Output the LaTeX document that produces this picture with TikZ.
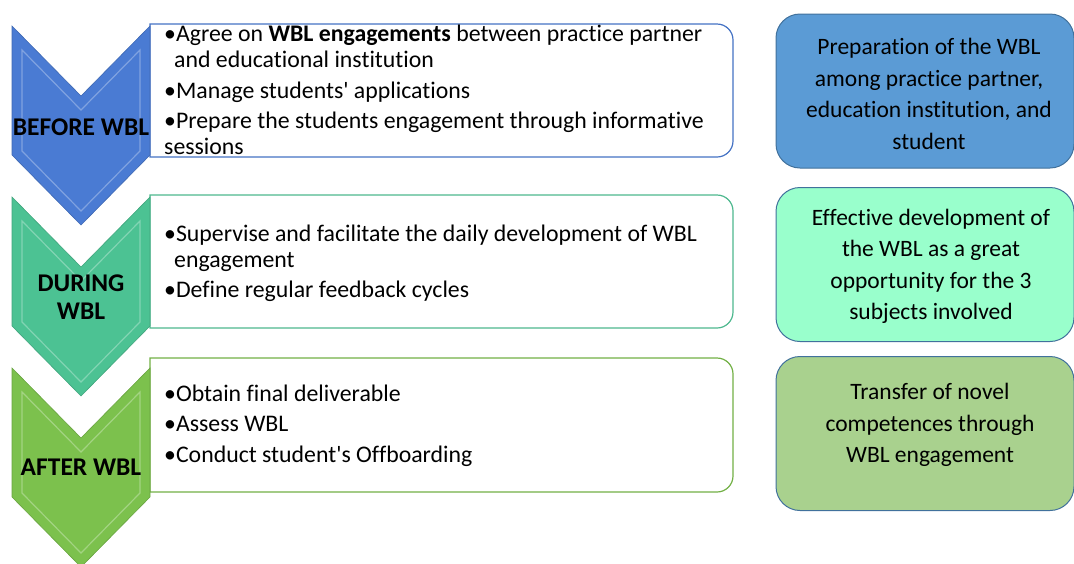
\documentclass[tikz,border=0pt]{standalone}
\usepackage{fontspec}
\setmainfont{Carlito}[Ligatures={TeXOff,NoCommon}]
\usetikzlibrary{positioning}

\definecolor{beforeblue}{HTML}{4A7BD3}
\definecolor{duringgreen}{HTML}{4CC293}
\definecolor{aftergreen}{HTML}{7CC14D}
\definecolor{beforeline}{HTML}{4472C4}
\definecolor{duringline}{HTML}{4DB88E}
\definecolor{afterline}{HTML}{72B045}
\definecolor{goalblue}{HTML}{5B9BD5}
\definecolor{goalmint}{HTML}{99FFCC}
\definecolor{goalgreen}{HTML}{A9D18E}
\definecolor{goalline}{HTML}{41719C}

% chevron outline and its inner bevel, #1 = y of the top corners
\newcommand{\chevpath}[1]{(12,#1) -- (81,#1+70) -- (150,#1) -- (150,#1+129) -- (81,#1+199) -- (12,#1+129) -- cycle}
\newcommand{\bevelpath}[1]{(22,#1+24) -- (81,#1+84) -- (140,#1+24) -- (140,#1+125) -- (81,#1+185) -- (22,#1+125) -- cycle}
% task frame, square on the left, rounded on the right
\newcommand{\framepath}[2]{(150,#1) [rounded corners=16pt] -- (733,#1) -- (733,#2) [sharp corners] -- (150,#2) -- cycle}
\newcommand{\duty}[1]{\par\noindent\hyphenpenalty=10000
  \hangindent=10pt\hangafter=1\textbullet#1}

\begin{document}
\begin{tikzpicture}[x=1pt,y=-1pt,
    chev/.style={fill=#1,draw=#1!85!black,line width=0.6pt},
    bevel/.style={draw=white,draw opacity=0.3,line width=1.2pt},
    frame/.style={draw=#1,fill=white,line width=1.2pt},
    phase/.style={font=\fontsize{25.5}{28}\selectfont\bfseries,align=center,inner sep=0pt},
    task/.style={font=\fontsize{23.8}{26}\selectfont\setlength{\parskip}{4.5pt},
      text width=565pt,align=flush left,anchor=north west,inner sep=0pt},
    goal/.style={fill=#1,draw=goalline,line width=1pt,rounded corners=24pt,
      minimum width=298pt,minimum height=154pt,inner sep=0pt},
    goaltext/.style={font=\fontsize{23.5}{31.5}\selectfont,align=center,inner sep=0pt}]
  \useasboundingbox (0,0) rectangle (1074,563);

  % task frames
  \draw[frame=beforeline] \framepath{24}{157};
  \draw[frame=duringline] \framepath{195}{328};
  \draw[frame=afterline] \framepath{358}{492};

  % phase chevrons
  \filldraw[chev=beforeblue] \chevpath{26};
  \draw[bevel] \bevelpath{26};
  \filldraw[chev=duringgreen] \chevpath{197};
  \draw[bevel] \bevelpath{197};
  \filldraw[chev=aftergreen] \chevpath{368};
  \draw[bevel] \bevelpath{368};

  \node[phase] (before) at (81,127) {BEFORE WBL};
  \node[phase] (during) at (81,297) {DURING\\WBL};
  \node[phase] (after) at (81,467) {AFTER WBL};

  % tasks of each phase
  \node[task] (t1) at (164,11) {%
    \duty{Agree on \textbf{WBL engagements} between practice partner and educational institution}
    \duty{Manage students' applications}
    \duty{Prepare the students engagement through informative sessions}};
  \node[task] (t2) at (164,210.5) {%
    \duty{Supervise and facilitate the daily development of WBL engagement}
    \duty{Define regular feedback cycles}};
  \node[task] (t3) at (164,370.5) {%
    \duty{Obtain final deliverable}
    \duty{Assess WBL}
    \duty{Conduct student's Offboarding}};

  % outcomes
  \node[goal=goalblue] (g1) at (925,91) {};
  \node[goal=goalmint] (g2) at (925,264.5) {};
  \node[goal=goalgreen] (g3) at (925,433.5) {};
  \node[goaltext] at (929,94) {Preparation of the WBL\\among practice partner,\\education institution, and\\student};
  \node[goaltext] at (931,266.5) {Effective development of\\the WBL as a great\\opportunity for the 3\\subjects involved};
  \node[goaltext] at (930,425) {Transfer of novel\\competences through\\WBL engagement};
\end{tikzpicture}
\end{document}
